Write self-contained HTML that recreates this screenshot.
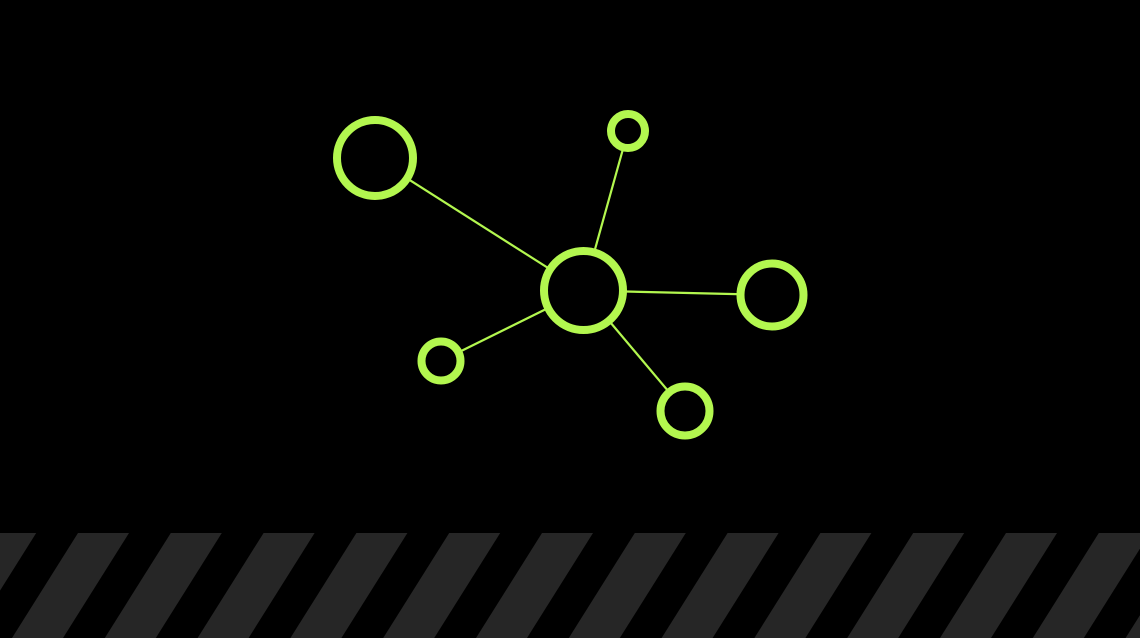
<!DOCTYPE html>
<html><head><meta charset="utf-8"><style>
html,body{margin:0;padding:0;background:#000;width:1140px;height:638px;overflow:hidden}
svg{display:block}
</style></head><body>
<svg id="chart" width="1140" height="638" viewBox="0 0 1140 638">
<g id="stripes"></g>
<g id="edges"></g>
<g id="nodes"></g>
</svg>
<script>
const nodeNames=['hub','top-left','top','right','left','bottom'];
const nodeX=[583.5,375,628,772,441,685];
const nodeY=[290.5,158,131,295,361,411];
const nodeR=[39.5,38,17,31.5,19.5,24.5];
const edgeFrom=[0,0,0,0,0];
const edgeTo=[1,2,3,4,5];
const NS='http://www.w3.org/2000/svg';
const C='#b3f74f';
const sg=document.getElementById('stripes');
for(let i=-1;i<14;i++){
  const x0=78+i*92.8;
  const p=document.createElementNS(NS,'polygon');
  p.setAttribute('points',`${x0},533 ${x0+51},533 ${x0+51-66},638 ${x0-66},638`);
  p.setAttribute('fill','#262626');
  
  
  sg.appendChild(p);
}
const eg=document.getElementById('edges');
for(let i=0;i<edgeFrom.length;i++){
  const a=edgeFrom[i],b=edgeTo[i];
  const l=document.createElementNS(NS,'line');
  l.setAttribute('x1',nodeX[a]);l.setAttribute('y1',nodeY[a]);
  l.setAttribute('x2',nodeX[b]);l.setAttribute('y2',nodeY[b]);
  l.setAttribute('stroke',C);l.setAttribute('stroke-width','2.2');
  
  
  eg.appendChild(l);
}
const ng=document.getElementById('nodes');
for(let i=0;i<nodeX.length;i++){
  const c=document.createElementNS(NS,'circle');
  c.setAttribute('cx',nodeX[i]);c.setAttribute('cy',nodeY[i]);c.setAttribute('r',nodeR[i]);
  c.setAttribute('fill','#000');c.setAttribute('stroke',C);c.setAttribute('stroke-width','8');
  
  
  ng.appendChild(c);
}
</script>
</body></html>
